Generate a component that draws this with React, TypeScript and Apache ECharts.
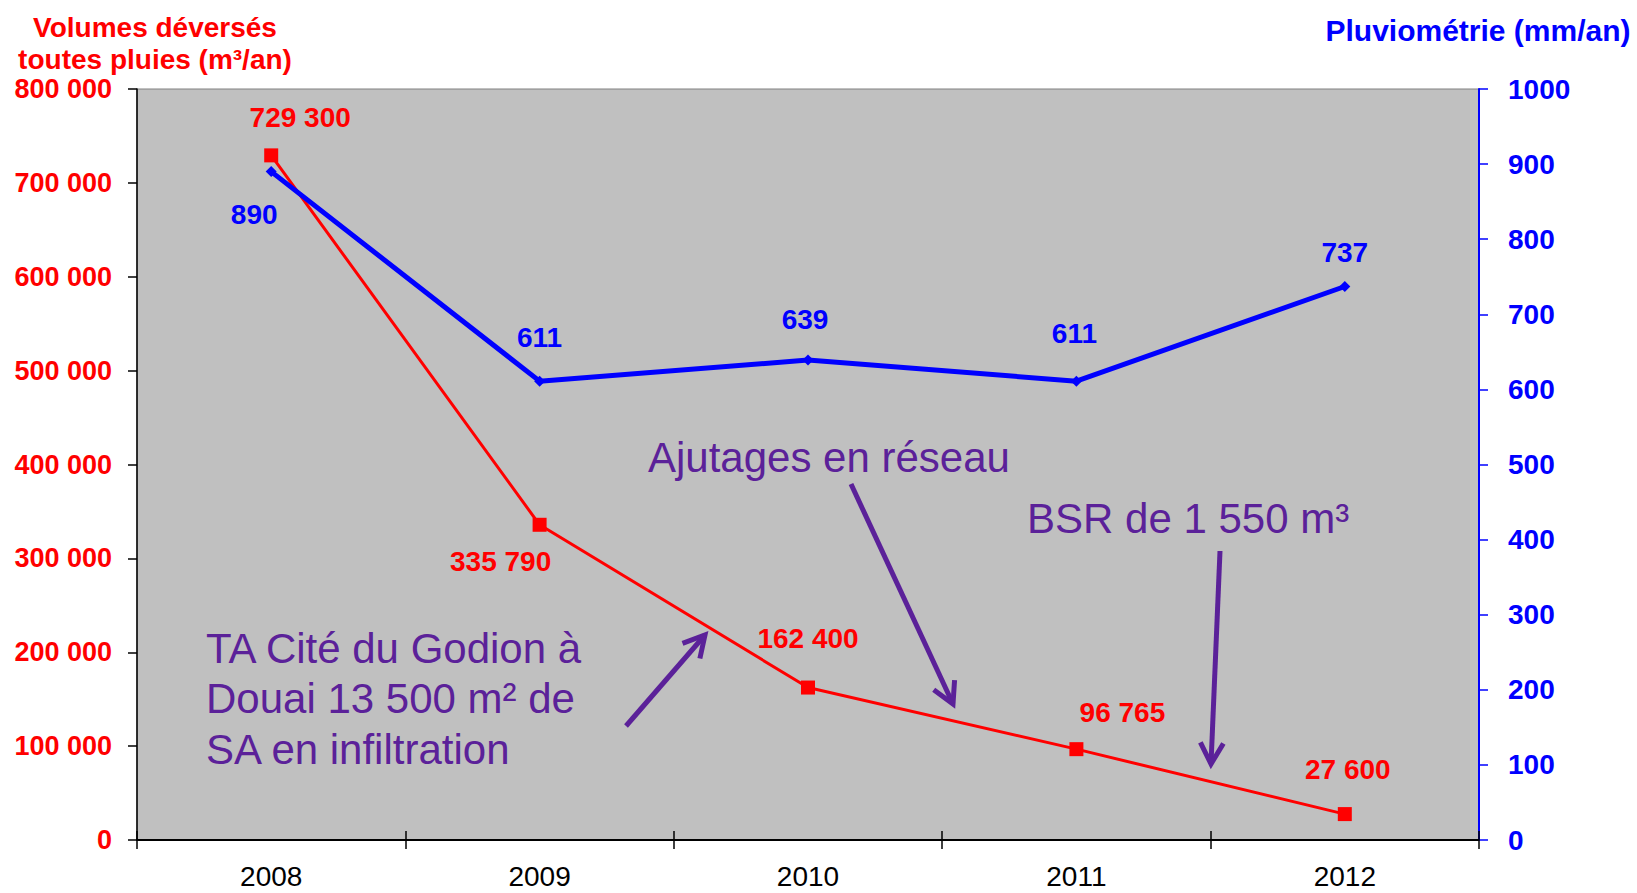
import React, { useEffect, useRef } from "react";
import * as echarts from "echarts";

const years = ["2008", "2009", "2010", "2011", "2012"];
const volumes = [729300, 335790, 162400, 96765, 27600];
const rainfall = [890, 611, 639, 611, 737];
const volumeLabelOffsets = [[29, -38], [-39, 37], [0, -49], [46, -37], [3, -45]];
const rainLabelOffsets = [[-17, 43], [0, -44], [-3, -41], [-2, -48], [0, -34]];

const FONT = 'Arial, "Liberation Sans", sans-serif';
const RED = "#FF0000";
const BLUE = "#0000FF";
const PURPLE = "#5B2199";

const fmtSpace = (v: number) => String(v).replace(/\B(?=(\d{3})+(?!\d))/g, " ");

function arrow(x1: number, y1: number, x2: number, y2: number) {
  const ang = Math.atan2(y2 - y1, x2 - x1);
  const L = 24;
  const t = 0.5;
  const p1 = [x2 - L * Math.cos(ang - t), y2 - L * Math.sin(ang - t)];
  const p2 = [x2 - L * Math.cos(ang + t), y2 - L * Math.sin(ang + t)];
  return [
    { type: "line", shape: { x1, y1, x2, y2 }, style: { stroke: PURPLE, lineWidth: 5 }, z: 10 },
    {
      type: "polyline",
      shape: { points: [p1, [x2, y2], p2] },
      style: { stroke: PURPLE, lineWidth: 5, fill: null, lineJoin: "miter" },
      z: 10,
    },
  ];
}

function txt(text: string, x: number, y: number, size: number, color: string, bold: boolean, align: string) {
  return {
    type: "text",
    x,
    y,
    z: 10,
    style: {
      text,
      fill: color,
      font: `${bold ? "bold " : ""}${size}px ${FONT}`,
      textAlign: align,
      textVerticalAlign: "middle",
    },
  };
}

export default function App() {
  const ref = useRef<HTMLDivElement>(null);
  useEffect(() => {
    if (!ref.current) return;
    const chart = echarts.init(ref.current, null, { renderer: "svg" });
    const option: any = {
      animation: false,
      backgroundColor: "#FFFFFF",
      grid: {
        left: 137,
        right: 158,
        top: 89,
        bottom: 53,
        show: true,
        backgroundColor: "#C0C0C0",
        borderColor: "#808080",
        borderWidth: 1,
      },
      xAxis: [
        {
          type: "category",
          data: years,
          boundaryGap: true,
          axisLine: { show: true, lineStyle: { color: "#000", width: 2 } },
          axisTick: { show: true, inside: false, length: 9, lineStyle: { color: "#000", width: 1.5 } },
          axisLabel: { color: "#000", fontSize: 28, fontFamily: FONT, margin: 22 },
          splitLine: { show: false },
        },
        {
          type: "category",
          data: years,
          position: "bottom",
          boundaryGap: true,
          axisLine: { show: false },
          axisTick: { show: true, inside: true, length: 9, lineStyle: { color: "#000", width: 1.5 } },
          axisLabel: { show: false },
          splitLine: { show: false },
        },
      ],
      yAxis: [
        {
          type: "value",
          min: 0,
          max: 800000,
          interval: 100000,
          axisLine: { show: true, lineStyle: { color: "#000", width: 1.5 } },
          axisTick: { show: true, inside: false, length: 9, lineStyle: { color: "#000", width: 1.5 } },
          axisLabel: {
            color: RED,
            fontSize: 27,
            fontWeight: "bold",
            fontFamily: FONT,
            margin: 25,
            formatter: (v: number) => fmtSpace(v),
          },
          splitLine: { show: false },
        },
        {
          type: "value",
          min: 0,
          max: 1000,
          interval: 100,
          position: "right",
          axisLine: { show: true, lineStyle: { color: BLUE, width: 2 } },
          axisTick: { show: true, inside: false, length: 9, lineStyle: { color: BLUE, width: 1.5 } },
          axisLabel: {
            color: BLUE,
            fontSize: 28,
            fontWeight: "bold",
            fontFamily: FONT,
            margin: 29,
            formatter: (v: number) => String(v),
          },
          splitLine: { show: false },
        },
      ],
      series: [
        {
          type: "line",
          name: "Volumes",
          yAxisIndex: 0,
          data: volumes.map((v, i) => ({ value: v, label: { offset: volumeLabelOffsets[i] } })),
          symbol: "rect",
          symbolSize: 14,
          lineStyle: { color: RED, width: 3 },
          itemStyle: { color: RED },
          label: {
            show: true,
            position: "inside",
            align: "center",
            verticalAlign: "middle",
            color: RED,
            fontSize: 28,
            fontWeight: "bold",
            fontFamily: FONT,
            formatter: (p: any) => fmtSpace(p.value),
          },
          z: 3,
        },
        {
          type: "line",
          name: "Pluviométrie",
          yAxisIndex: 1,
          data: rainfall.map((v, i) => ({ value: v, label: { offset: rainLabelOffsets[i] } })),
          symbol: "diamond",
          symbolSize: 11,
          lineStyle: { color: BLUE, width: 5 },
          itemStyle: { color: BLUE },
          label: {
            show: true,
            position: "inside",
            align: "center",
            verticalAlign: "middle",
            color: BLUE,
            fontSize: 28,
            fontWeight: "bold",
            fontFamily: FONT,
          },
          z: 4,
        },
      ],
      graphic: [
        txt("Volumes déversés", 155, 27, 28, RED, true, "center"),
        txt("toutes pluies (m³/an)", 155, 59, 28, RED, true, "center"),
        txt("Pluviométrie (mm/an)", 1478, 30, 30, BLUE, true, "center"),
        txt("TA Cité du Godion à", 206, 648, 42, PURPLE, false, "left"),
        txt("Douai 13 500 m² de", 206, 698, 42, PURPLE, false, "left"),
        txt("SA en infiltration", 206, 749, 42, PURPLE, false, "left"),
        txt("Ajutages en réseau", 648, 457, 42, PURPLE, false, "left"),
        txt("BSR de 1 550 m³", 1027, 518, 42, PURPLE, false, "left"),
        ...arrow(626, 726, 705, 635),
        ...arrow(851, 484, 953, 704),
        ...arrow(1220, 551, 1211, 764),
      ],
    };
    chart.setOption(option);
    return () => chart.dispose();
  }, []);
  return (
    <div
      ref={ref}
      style={{ position: "fixed", left: 0, top: 0, width: 1637, height: 893, background: "#fff" }}
    />
  );
}
